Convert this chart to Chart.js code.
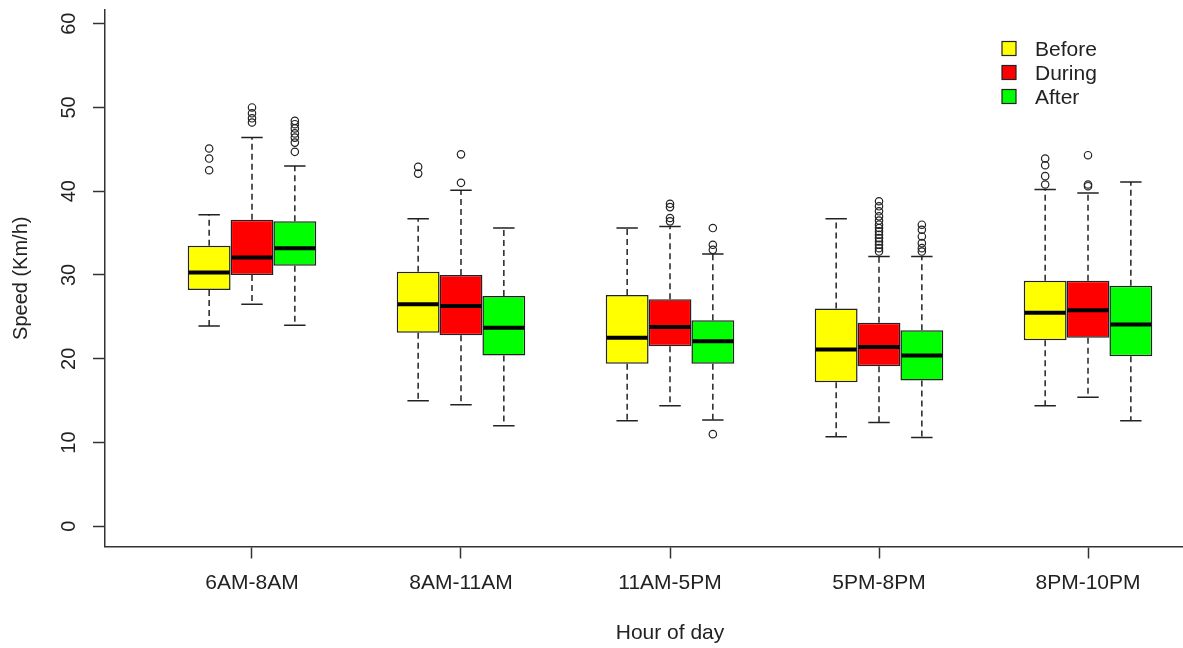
<!DOCTYPE html>
<html>
<head>
<meta charset="utf-8">
<script src="https://cdn.jsdelivr.net/npm/chart.js@4/dist/chart.umd.min.js"></script>
<style>
  html, body { margin: 0; padding: 0; background: #fff; overflow: hidden; width: 1183px; height: 648px; }
  #wrap { position: absolute; left: 0; top: 0; width: 1235px; height: 648px; }
</style>
</head>
<body>
<div id="wrap"><canvas id="c" width="1235" height="648"></canvas></div>
<script>
// ---------- data ----------
const categories = ['6AM-8AM', '8AM-11AM', '11AM-5PM', '5PM-8PM', '8PM-10PM'];
const seriesNames = ['Before', 'During', 'After'];
const seriesColors = ['#FFFF00', '#FF0000', '#00FF00'];
const yTicks = [0, 10, 20, 30, 40, 50, 60];

const beforeLow  = [23.9, 15.0, 12.6, 10.7, 14.4];
const beforeQ1   = [28.2, 23.1, 19.4, 17.2, 22.2];
const beforeMed  = [30.3, 26.5, 22.5, 21.1, 25.5];
const beforeQ3   = [33.5, 30.4, 27.6, 26.0, 29.3];
const beforeHigh = [37.2, 36.7, 35.6, 36.7, 40.2];
const beforeOut  = [[45.1, 43.9, 42.5], [42.9, 42.1], [], [], [43.9, 43.1, 41.8, 40.8]];

const duringLow  = [26.5, 14.5, 14.4, 12.4, 15.4];
const duringQ1   = [30.0, 22.8, 21.5, 19.1, 22.5];
const duringMed  = [32.1, 26.3, 23.8, 21.4, 25.8];
const duringQ3   = [36.6, 30.0, 27.1, 24.3, 29.3];
const duringHigh = [46.4, 40.1, 35.8, 32.2, 39.8];
const duringOut  = [[50.0, 49.3, 48.7, 48.2], [44.4, 41.0], [38.5, 38.1, 36.8, 36.4],
                    [38.8, 38.2, 37.6, 37.0, 36.5, 36.0, 35.6, 35.2, 34.8, 34.4, 34.0, 33.6, 33.2, 32.8],
                    [44.3, 40.8, 40.6]];

const afterLow   = [24.0, 12.0, 12.7, 10.6, 12.6];
const afterQ1    = [31.1, 20.4, 19.4, 17.4, 20.3];
const afterMed   = [33.2, 23.7, 22.1, 20.4, 24.1];
const afterQ3    = [36.4, 27.5, 24.6, 23.4, 28.7];
const afterHigh  = [43.0, 35.6, 32.5, 32.2, 41.1];
const afterOut   = [[48.4, 48.0, 47.5, 46.9, 46.4, 45.8, 44.7], [], [35.6, 33.6, 33.0, 11.0],
                    [36.0, 35.4, 34.6, 33.8, 33.2, 32.8], []];

const stats = [
  {low: beforeLow, q1: beforeQ1, med: beforeMed, q3: beforeQ3, high: beforeHigh, out: beforeOut},
  {low: duringLow, q1: duringQ1, med: duringMed, q3: duringQ3, high: duringHigh, out: duringOut},
  {low: afterLow,  q1: afterQ1,  med: afterMed,  q3: afterQ3,  high: afterHigh,  out: afterOut}
];

// ---------- chart ----------
const FONT = 'Liberation Sans, Arial, sans-serif';
const INK = '#222';
const AXIS = '#333';

const datasets = seriesNames.map((name, s) => ({
  label: name,
  data: categories.map((c, i) => ({x: i + 1, y: [stats[s].q1[i], stats[s].q3[i]]})),
  backgroundColor: seriesColors[s],
  borderColor: INK,
  borderWidth: 1.5,
  borderSkipped: false,
  categoryPercentage: 0.615,
  barPercentage: 1.0
}));

const boxPlugin = {
  id: 'boxExtras',
  afterDatasetsDraw(chart) {
    const ctx = chart.ctx;
    const y = chart.scales.y;
    ctx.save();
    chart.data.datasets.forEach((ds, s) => {
      const meta = chart.getDatasetMeta(s);
      const st = stats[s];
      meta.data.forEach((bar, i) => {
        const cx = bar.x, w = bar.width;
        const yq1 = y.getPixelForValue(st.q1[i]);
        const yq3 = y.getPixelForValue(st.q3[i]);
        const ylo = y.getPixelForValue(st.low[i]);
        const yhi = y.getPixelForValue(st.high[i]);
        // whiskers (dashed)
        ctx.strokeStyle = INK;
        ctx.lineWidth = 1.5;
        ctx.setLineDash([6, 4]);
        ctx.beginPath();
        ctx.moveTo(cx, yq3); ctx.lineTo(cx, yhi);
        ctx.moveTo(cx, yq1); ctx.lineTo(cx, ylo);
        ctx.stroke();
        ctx.setLineDash([]);
        // caps
        ctx.beginPath();
        ctx.moveTo(cx - w / 4, yhi); ctx.lineTo(cx + w / 4, yhi);
        ctx.moveTo(cx - w / 4, ylo); ctx.lineTo(cx + w / 4, ylo);
        ctx.stroke();
        // median
        const ym = y.getPixelForValue(st.med[i]);
        ctx.strokeStyle = '#000';
        ctx.lineWidth = 4;
        ctx.beginPath();
        ctx.moveTo(cx - w / 2 + 1, ym); ctx.lineTo(cx + w / 2 - 1, ym);
        ctx.stroke();
        // outliers
        ctx.strokeStyle = INK;
        ctx.lineWidth = 1.2;
        st.out[i].forEach(v => {
          const py = y.getPixelForValue(v);
          ctx.beginPath();
          ctx.arc(cx, py, 3.7, 0, Math.PI * 2);
          ctx.stroke();
        });
      });
    });
    ctx.restore();
  },
  afterDraw(chart) {
    // legend (top-right, inside plot)
    const ctx = chart.ctx;
    ctx.save();
    const rowY = [48.5, 72.5, 96.5];
    chart.data.datasets.forEach((ds, s) => {
      const yy = rowY[s];
      ctx.fillStyle = ds.backgroundColor;
      ctx.fillRect(1002, yy - 7, 14, 14);
      ctx.strokeStyle = INK;
      ctx.lineWidth = 1.2;
      ctx.strokeRect(1002, yy - 7, 14, 14);
      ctx.fillStyle = INK;
      ctx.font = '21px ' + FONT;
      ctx.textAlign = 'left';
      ctx.textBaseline = 'middle';
      ctx.fillText(ds.label, 1035, yy + 1.5);
    });
    ctx.restore();
  }
};

new Chart(document.getElementById('c'), {
  type: 'bar',
  data: { datasets },
  options: {
    responsive: false,
    animation: false,
    devicePixelRatio: 1,
    layout: { padding: { top: 10, left: 0, right: 0, bottom: 0 } },
    plugins: { legend: { display: false }, tooltip: { enabled: false } },
    scales: {
      x: {
        type: 'linear',
        min: 0.2967,
        max: 5.7033,
        offset: false,
        afterBuildTicks: (sc) => { sc.ticks = categories.map((c, i) => ({value: i + 1})); },
        afterFit: (sc) => { sc.height = 101.5; sc.paddingLeft = 0; sc.paddingRight = 0; },
        grid: { offset: false, drawOnChartArea: false, drawTicks: true, tickLength: 12, tickColor: AXIS, tickWidth: 1.5 },
        border: { display: true, color: AXIS, width: 1.5 },
        ticks: {
          autoSkip: false, maxRotation: 0, minRotation: 0, padding: 12,
          color: INK, font: { family: FONT, size: 21 },
          callback: (v) => categories[Math.round(v) - 1]
        },
        title: { display: true, text: 'Hour of day', color: INK, font: { family: FONT, size: 21 }, padding: { top: 0, bottom: 2.5 } }
      },
      y: {
        type: 'linear',
        min: -2.41,
        max: 61.63,
        afterBuildTicks: (sc) => { sc.ticks = yTicks.map(v => ({value: v})); },
        afterFit: (sc) => { sc.width = 105; sc.paddingTop = 0; sc.paddingBottom = 0; },
        grid: { drawOnChartArea: false, drawTicks: true, tickLength: 12, tickColor: AXIS, tickWidth: 1.5 },
        border: { display: true, color: AXIS, width: 1.5 },
        ticks: {
          minRotation: 90, maxRotation: 90, crossAlign: 'center', padding: 12,
          color: INK, font: { family: FONT, size: 20 }
        },
        title: { display: true, text: 'Speed (Km/h)', color: INK, font: { family: FONT, size: 20 }, padding: { top: 9.5, bottom: 0 } }
      }
    }
  },
  plugins: [boxPlugin]
});
</script>
</body>
</html>
